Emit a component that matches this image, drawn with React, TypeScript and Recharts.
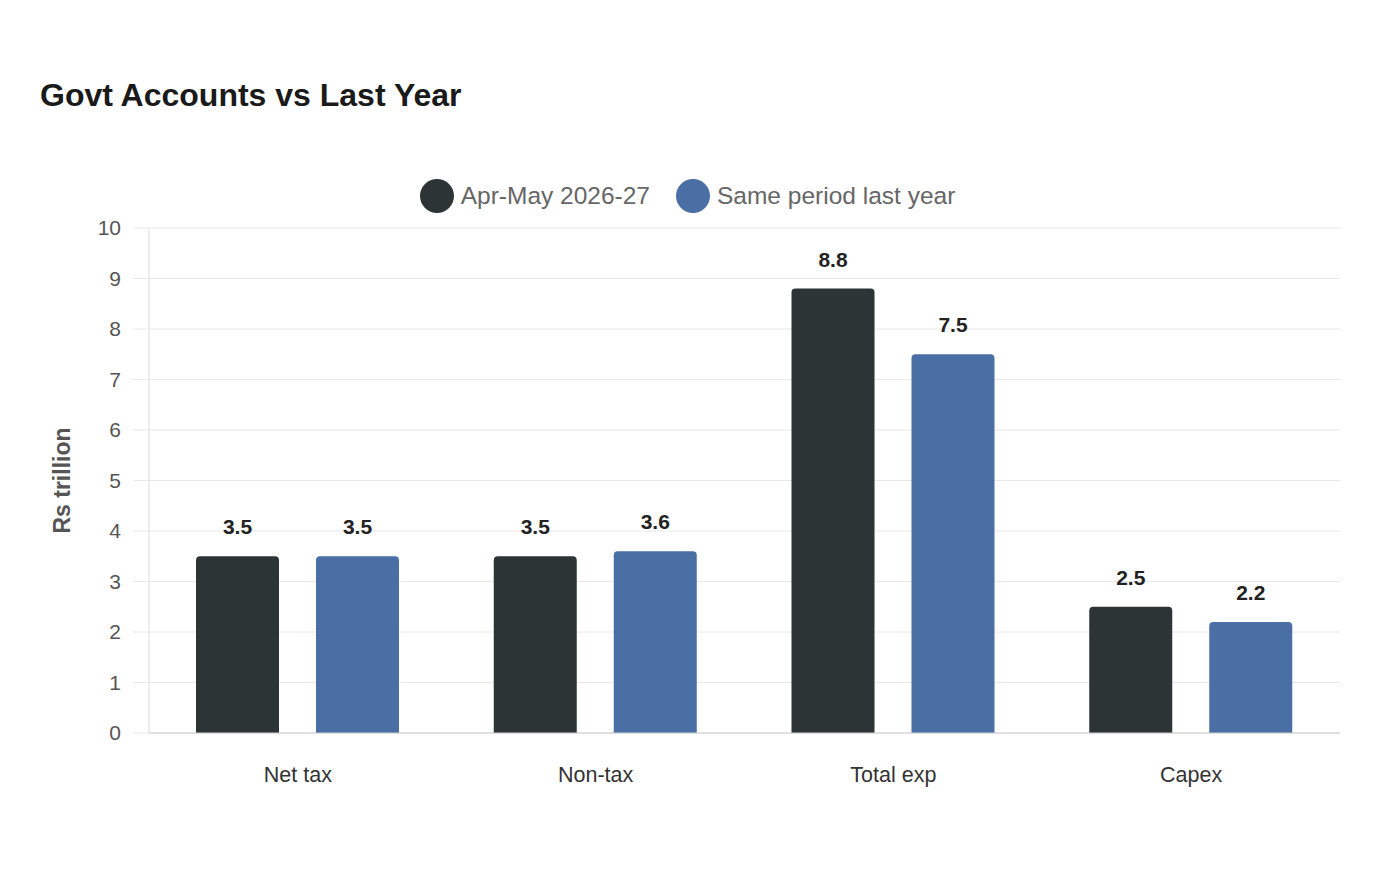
import React from "react";
import { BarChart, Bar, XAxis, YAxis, CartesianGrid, Legend, LabelList } from "recharts";

const categories = ["Net tax", "Non-tax", "Total exp", "Capex"];
const current = [3.5, 3.5, 8.8, 2.5];
const lastYear = [3.5, 3.6, 7.5, 2.2];
const yTicks = [0, 1, 2, 3, 4, 5, 6, 7, 8, 9, 10];

const DARK = "#2d3436";
const BLUE = "#4a6fa5";
const FONT = "'Liberation Sans', Arial, Helvetica, sans-serif";

const data = categories.map((c, i) => ({ name: c, current: current[i], lastYear: lastYear[i] }));

const legendItems = [
  { label: "Apr-May 2026-27", color: DARK },
  { label: "Same period last year", color: BLUE },
];

const LegendContent = () => (
  <div style={{ display: "flex", justifyContent: "center", alignItems: "center", fontFamily: FONT }}>
    {legendItems.map((it, i) => (
      <div key={it.label} style={{ display: "flex", alignItems: "center", marginLeft: i ? 26 : 0 }}>
        <span style={{ width: 34, height: 34, borderRadius: "50%", background: it.color, display: "inline-block" }} />
        <span style={{ marginLeft: 7, fontSize: 24.5, color: "#666" }}>{it.label}</span>
      </div>
    ))}
  </div>
);

const YLabel = (props: any) => {
  const { viewBox } = props;
  const x = viewBox.x + 22;
  const y = viewBox.y + viewBox.height / 2;
  return (
    <text x={x} y={y} transform={`rotate(-90 ${x} ${y})`} textAnchor="middle" dominantBaseline="central"
      fontSize={23} fontWeight="bold" fill="#555" fontFamily={FONT}>
      Rs trillion
    </text>
  );
};

export default function App() {
  return (
    <div style={{ position: "absolute", left: 0, top: 0, width: 1400, height: 880, background: "#fff", fontFamily: FONT }}>
      <div style={{ position: "absolute", left: 40, top: 75, fontSize: 32, fontWeight: "bold", color: "#1a1a1a", lineHeight: "40px" }}>
        Govt Accounts vs Last Year
      </div>
      <BarChart width={1400} height={880} data={data} margin={{ top: 228, right: 60, bottom: 87, left: 40 }}
        barSize={83} barGap={37}>
        <CartesianGrid vertical={false} stroke="#e8e8e8" />
        <XAxis dataKey="name" height={60} tickLine={false} tickSize={0} tickMargin={34}
          axisLine={{ stroke: "#cccccc" }}
          tick={{ fill: "#333", fontSize: 21.5, fontFamily: FONT }} />
        <YAxis width={109} domain={[0, 10]} ticks={yTicks} interval={0}
          axisLine={{ stroke: "#dddddd" }} tickLine={{ stroke: "#e8e8e8" }} tickSize={16} tickMargin={12}
          tick={{ fill: "#555", fontSize: 21, fontFamily: FONT }}
          label={<YLabel />} />
        <Legend verticalAlign="middle" layout="horizontal" align="center" content={<LegendContent />}
          wrapperStyle={{ top: 179, left: 0, width: 1375 }} />
        <Bar dataKey="current" name="Apr-May 2026-27" fill={DARK} radius={[4, 4, 0, 0]} isAnimationActive={false}>
          <LabelList dataKey="current" position="top" offset={22} fill="#222" fontSize={21} fontWeight="bold" fontFamily={FONT} />
        </Bar>
        <Bar dataKey="lastYear" name="Same period last year" fill={BLUE} radius={[4, 4, 0, 0]} isAnimationActive={false}>
          <LabelList dataKey="lastYear" position="top" offset={22} fill="#222" fontSize={21} fontWeight="bold" fontFamily={FONT} />
        </Bar>
      </BarChart>
    </div>
  );
}
